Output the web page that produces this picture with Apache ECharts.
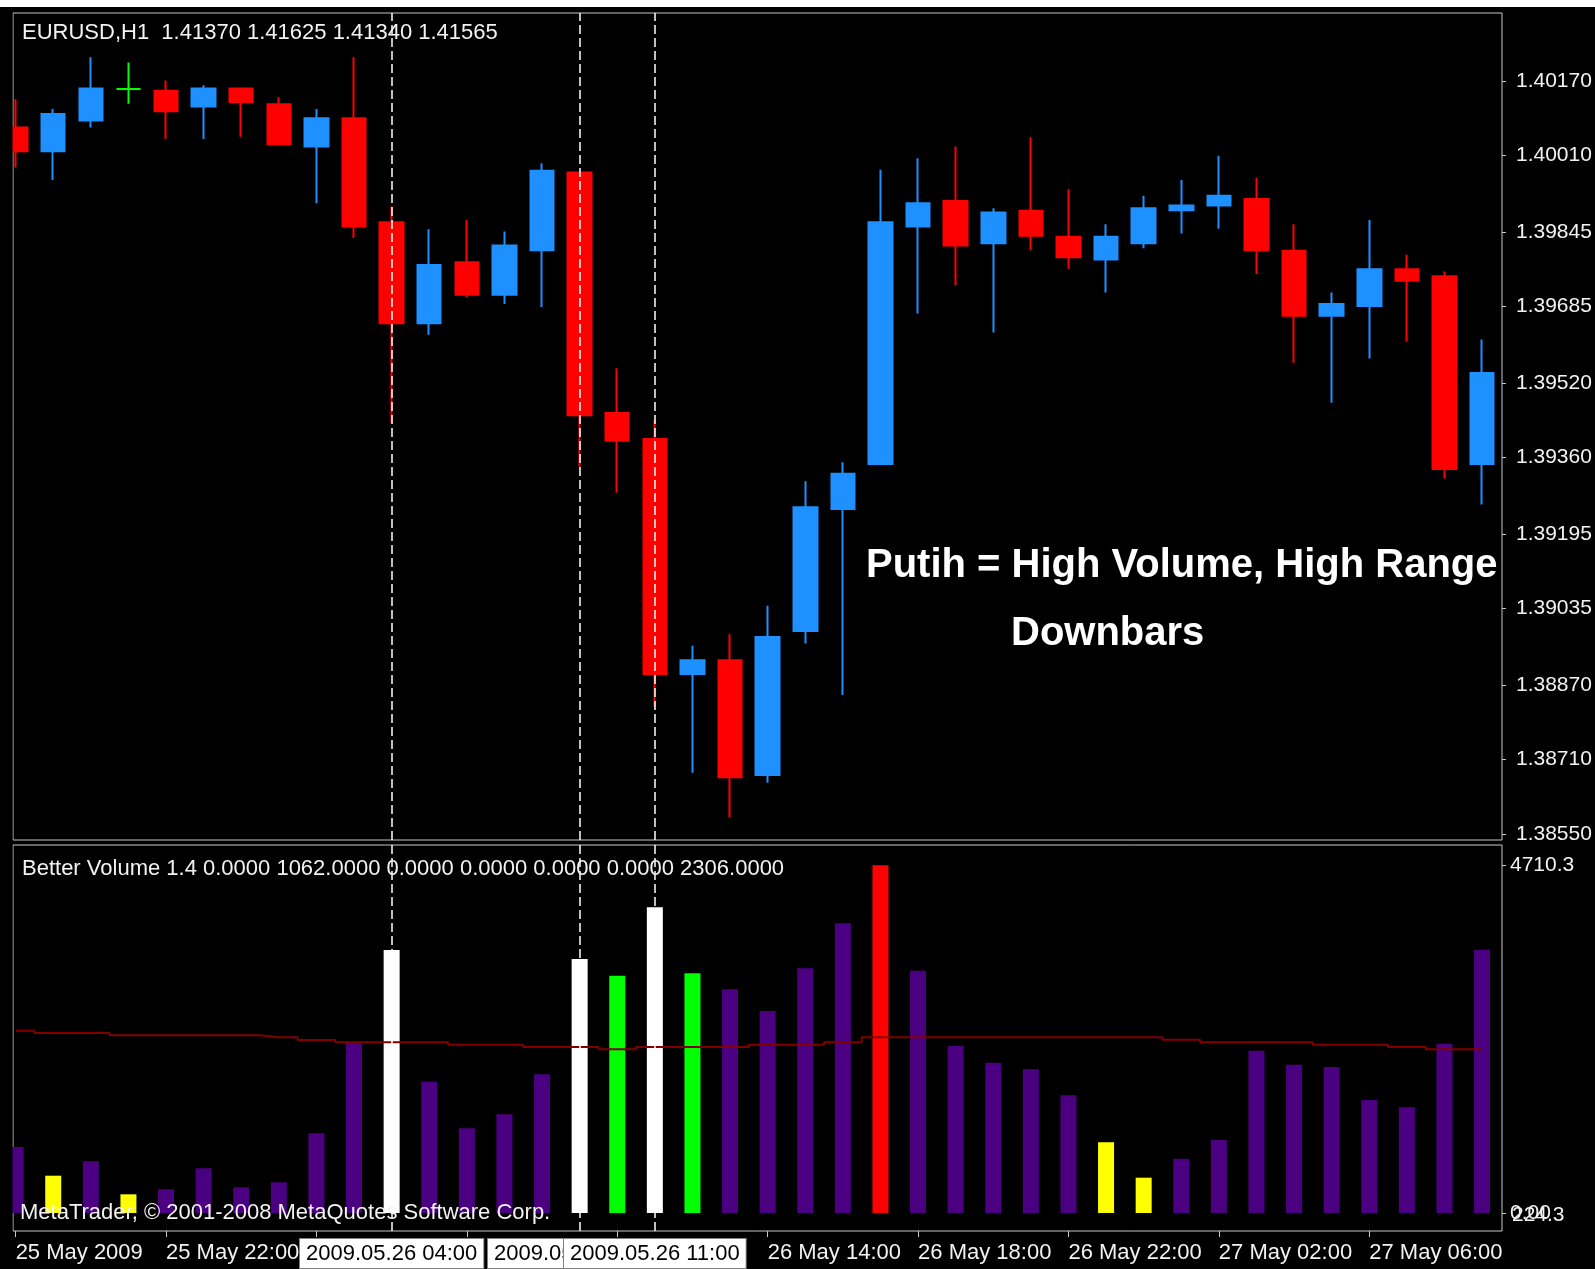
<!DOCTYPE html>
<html>
<head>
<meta charset="utf-8">
<title>EURUSD H1 - Better Volume</title>
<script src="https://cdn.jsdelivr.net/npm/echarts@6.0.0/dist/echarts.min.js"></script>
<style>
  html, body { margin: 0; padding: 0; background: #000; }
  #chart { width: 1595px; height: 1269px; }
</style>
</head>
<body>
<div id="chart"></div>
<script>
// bar index, one per hour from 25 May 2009 18:00
const barIndex = [0, 1, 2, 3, 4, 5, 6, 7, 8, 9, 10, 11, 12, 13, 14, 15, 16, 17, 18, 19,
  20, 21, 22, 23, 24, 25, 26, 27, 28, 29, 30, 31, 32, 33, 34, 35, 36, 37, 38, 39];

// OHLC
const opens = [1.40070, 1.40019, 1.40085, 1.40153, 1.40149, 1.40115, 1.40154, 1.40120, 1.40029, 1.40090,
  1.39866, 1.39649, 1.39780, 1.39710, 1.39806, 1.39973, 1.39456, 1.39400, 1.38894, 1.38924,
  1.38677, 1.38987, 1.39249, 1.39346, 1.39857, 1.39912, 1.39821, 1.39891, 1.39835, 1.39786,
  1.39821, 1.39892, 1.39902, 1.39916, 1.39805, 1.39665, 1.39686, 1.39765, 1.39750, 1.39346];
const closes = [1.40019, 1.40099, 1.40154, 1.40153, 1.40105, 1.40154, 1.40125, 1.40034, 1.40090, 1.39857,
  1.39649, 1.39774, 1.39710, 1.39816, 1.39977, 1.39451, 1.39396, 1.38894, 1.38924, 1.38672,
  1.38974, 1.39253, 1.39325, 1.39866, 1.39907, 1.39816, 1.39887, 1.39837, 1.39791, 1.39835,
  1.39896, 1.39902, 1.39923, 1.39806, 1.39665, 1.39690, 1.39765, 1.39740, 1.39335, 1.39542];
const lows = [1.39984, 1.39957, 1.40070, 1.40121, 1.40045, 1.40045, 1.40050, 1.40033, 1.39907, 1.39832,
  1.39434, 1.39624, 1.39705, 1.39690, 1.39684, 1.39340, 1.39284, 1.38824, 1.38682, 1.38586,
  1.38660, 1.38960, 1.38849, 1.39344, 1.39670, 1.39730, 1.39629, 1.39806, 1.39766, 1.39715,
  1.39810, 1.39842, 1.39852, 1.39755, 1.39564, 1.39478, 1.39573, 1.39609, 1.39315, 1.39259];
const highs = [1.40131, 1.40110, 1.40221, 1.40210, 1.40171, 1.40161, 1.40155, 1.40135, 1.40110, 1.40221,
  1.39900, 1.39851, 1.39871, 1.39846, 1.39993, 1.39975, 1.39552, 1.39441, 1.38955, 1.38980,
  1.39041, 1.39309, 1.39350, 1.39979, 1.40004, 1.40029, 1.39896, 1.40049, 1.39937, 1.39862,
  1.39923, 1.39957, 1.40009, 1.39962, 1.39862, 1.39715, 1.39871, 1.39796, 1.39760, 1.39614];

// Better Volume histogram
const volumes = [894, 505, 700, 253, 321, 606, 348, 416, 1080, 2299,
  3563, 1779, 1147, 1337, 1879, 3441, 3215, 4141, 3247, 3030,
  2737, 3315, 3925, 4710.3, 3282, 2262, 2036, 1947, 1594, 958,
  478, 736, 989, 2199, 2009, 1978, 1531, 1432, 2294, 3567];
// n = normal, y = low volume, w = climax down, g = climax up / churn, r = climax high
const volKinds = ['n', 'y', 'n', 'y', 'n', 'n', 'n', 'n', 'n', 'n',
  'w', 'n', 'n', 'n', 'n', 'w', 'g', 'w', 'g', 'n',
  'n', 'n', 'n', 'r', 'n', 'n', 'n', 'n', 'n', 'y',
  'y', 'n', 'n', 'n', 'n', 'n', 'n', 'n', 'n', 'n'];
const volAverage = [2470, 2438, 2438, 2407, 2407, 2407, 2407, 2380, 2344, 2312,
  2312, 2312, 2280, 2280, 2249, 2249, 2218, 2249, 2249, 2249,
  2280, 2280, 2312, 2380, 2380, 2380, 2380, 2380, 2380, 2380,
  2380, 2348, 2312, 2312, 2312, 2280, 2280, 2249, 2218, 2218];

// axes
const priceTicks = [1.38550, 1.38710, 1.38870, 1.39035, 1.39195, 1.39360, 1.39520, 1.39685, 1.39845, 1.40010, 1.40170];
const priceMin = 1.385371;
const priceMax = 1.403163;
const volMin = -244;
const volMax = 4985;
const volTicks = [0, 4710.3];
const volTickLabels = ['0.00', '4710.3'];
const timeTicks = [0, 4, 8, 12, 16, 20, 24, 28, 32, 36];
const timeLabelBars = [0, 4, 20, 24, 28, 32, 36];
const timeLabels = ['25 May 2009', '25 May 22:00', '26 May 14:00', '26 May 18:00', '26 May 22:00', '27 May 02:00', '27 May 06:00'];
const xMin = -0.07;
const xMax = 39.53;

// vertical marker lines
const markerBars = [10, 15, 17];
const markerTexts = ['2009.05.26 04:00', '2009.05.26 09:00', '2009.05.26 11:00'];

const FONT = 'Liberation Sans';
const kindColor = { n: '#4b0082', y: '#ffff00', w: '#ffffff', g: '#00ff00', r: '#ff0000' };

const candleData = barIndex.map((x, i) => {
  const item = { value: [x, opens[i], closes[i], lows[i], highs[i]] };
  if (opens[i] === closes[i]) {
    item.itemStyle = { color: '#00ff00', color0: '#00ff00', borderColor: '#00ff00', borderColor0: '#00ff00' };
  }
  return item;
});
const volData = barIndex.map((x, i) => ({
  value: [x, volumes[i]],
  itemStyle: { color: kindColor[volKinds[i]] }
}));
const avgData = barIndex.map((x, i) => [x, volAverage[i]]);

const dashStyle = { color: '#ffffff', width: 1.5, type: [9, 4] };
const smallText = { color: '#f2f2f2', fontSize: 22, fontFamily: FONT, fontWeight: 'normal' };
const bigText = { color: '#ffffff', fontSize: 40, fontFamily: FONT, fontWeight: 'bold' };

const chart = echarts.init(document.getElementById('chart'), null, { renderer: 'canvas' });

chart.setOption({
  backgroundColor: '#000',
  animation: false,
  graphic: [
    { type: 'rect', shape: { x: 0, y: 0, width: 1595, height: 7 }, style: { fill: '#ffffff' }, silent: true, z: 100 },
    // candles and bars overhanging the left frame are cut off
    { type: 'rect', shape: { x: 0, y: 7, width: 12.5, height: 1224 }, style: { fill: '#000000' }, silent: true, z: 100 }
  ],
  title: [
    { text: 'EURUSD,H1  1.41370 1.41625 1.41340 1.41565', left: 22, top: 22, padding: 0, textStyle: smallText },
    { text: 'Better Volume 1.4 0.0000 1062.0000 0.0000 0.0000 0.0000 0.0000 2306.0000', left: 22, top: 858, padding: 0, textStyle: smallText },
    { text: 'MetaTrader, © 2001-2008 MetaQuotes Software Corp.', left: 20, top: 1202, padding: 0, textStyle: smallText },
    { text: 'Putih = High Volume, High Range', left: 866, top: 546, padding: 0, textStyle: bigText },
    { text: 'Downbars', left: 1011, top: 614, padding: 0, textStyle: bigText }
  ],
  grid: [
    { left: 13, right: 93, top: 13, height: 827, show: true, borderColor: '#c8c8c8', borderWidth: 1, backgroundColor: 'transparent' },
    { left: 13, right: 93, top: 845, height: 386, show: true, borderColor: '#c8c8c8', borderWidth: 1, backgroundColor: 'transparent' }
  ],
  xAxis: [
    {
      gridIndex: 0, type: 'value', min: xMin, max: xMax,
      axisLine: { show: false, onZero: false }, axisTick: { show: false }, axisLabel: { show: false }, splitLine: { show: false }
    },
    {
      gridIndex: 1, type: 'value', min: xMin, max: xMax, position: 'bottom',
      axisLine: { show: false, onZero: false },
      splitLine: { show: false },
      axisTick: { show: true, length: 6, customValues: timeTicks, lineStyle: { color: '#c8c8c8' } },
      axisLabel: {
        customValues: timeLabelBars,
        formatter: v => timeLabels[timeLabelBars.indexOf(v)],
        align: 'left', margin: 11,
        color: '#f2f2f2', fontSize: 22, fontFamily: FONT
      }
    }
  ],
  yAxis: [
    {
      gridIndex: 0, type: 'value', position: 'right', min: priceMin, max: priceMax,
      axisLine: { show: false, onZero: false }, splitLine: { show: false },
      axisTick: { show: true, length: 4, customValues: priceTicks, lineStyle: { color: '#c8c8c8' } },
      axisLabel: {
        customValues: priceTicks, formatter: v => v.toFixed(5), margin: 14,
        color: '#f2f2f2', fontSize: 21, fontFamily: FONT
      }
    },
    {
      gridIndex: 1, type: 'value', position: 'right', min: volMin, max: volMax,
      axisLine: { show: false, onZero: false }, splitLine: { show: false },
      axisTick: { show: true, length: 4, customValues: volTicks, lineStyle: { color: '#c8c8c8' } },
      axisLabel: {
        customValues: volTicks, formatter: v => volTickLabels[volTicks.indexOf(v)], margin: 8,
        color: '#f2f2f2', fontSize: 21, fontFamily: FONT
      }
    },
    {
      gridIndex: 1, type: 'value', position: 'right', min: volMin, max: volMax,
      axisLine: { show: false, onZero: false }, splitLine: { show: false }, axisTick: { show: false },
      axisLabel: {
        customValues: [0], formatter: () => '224.3', margin: 10,
        color: '#f2f2f2', fontSize: 21, fontFamily: FONT, verticalAlign: 'top', padding: [-8, 0, 0, 0]
      }
    }
  ],
  series: [
    {
      name: 'EURUSD,H1',
      type: 'candlestick',
      xAxisIndex: 0, yAxisIndex: 0,
      barWidth: 24,
      clip: true,
      itemStyle: {
        color: '#1e90ff', color0: '#ff0000',
        borderColor: '#1e90ff', borderColor0: '#ff0000',
        borderWidth: 2
      },
      data: candleData,
      markLine: {
        silent: true, symbol: 'none', animation: false,
        label: { show: false },
        lineStyle: dashStyle,
        data: markerBars.map(b => ({ xAxis: b }))
      }
    },
    {
      name: 'Better Volume',
      type: 'bar',
      xAxisIndex: 1, yAxisIndex: 1,
      barWidth: 16,
      clip: true,
      data: volData,
      markLine: {
        silent: true, symbol: 'none', animation: false,
        lineStyle: dashStyle,
        label: {
          show: true, position: 'start', distance: 8,
          formatter: '{b}',
          color: '#000', backgroundColor: '#ffffff',
          borderColor: '#808080', borderWidth: 1,
          padding: [4, 6, 3, 6],
          fontSize: 22, fontFamily: FONT
        },
        data: markerBars.map((b, i) => ({ xAxis: b, name: markerTexts[i] }))
      }
    },
    {
      name: 'Average',
      type: 'line',
      xAxisIndex: 1, yAxisIndex: 1,
      step: 'middle',
      symbol: 'none',
      lineStyle: { color: '#800000', width: 2 },
      data: avgData
    }
  ]
});
</script>
</body>
</html>
